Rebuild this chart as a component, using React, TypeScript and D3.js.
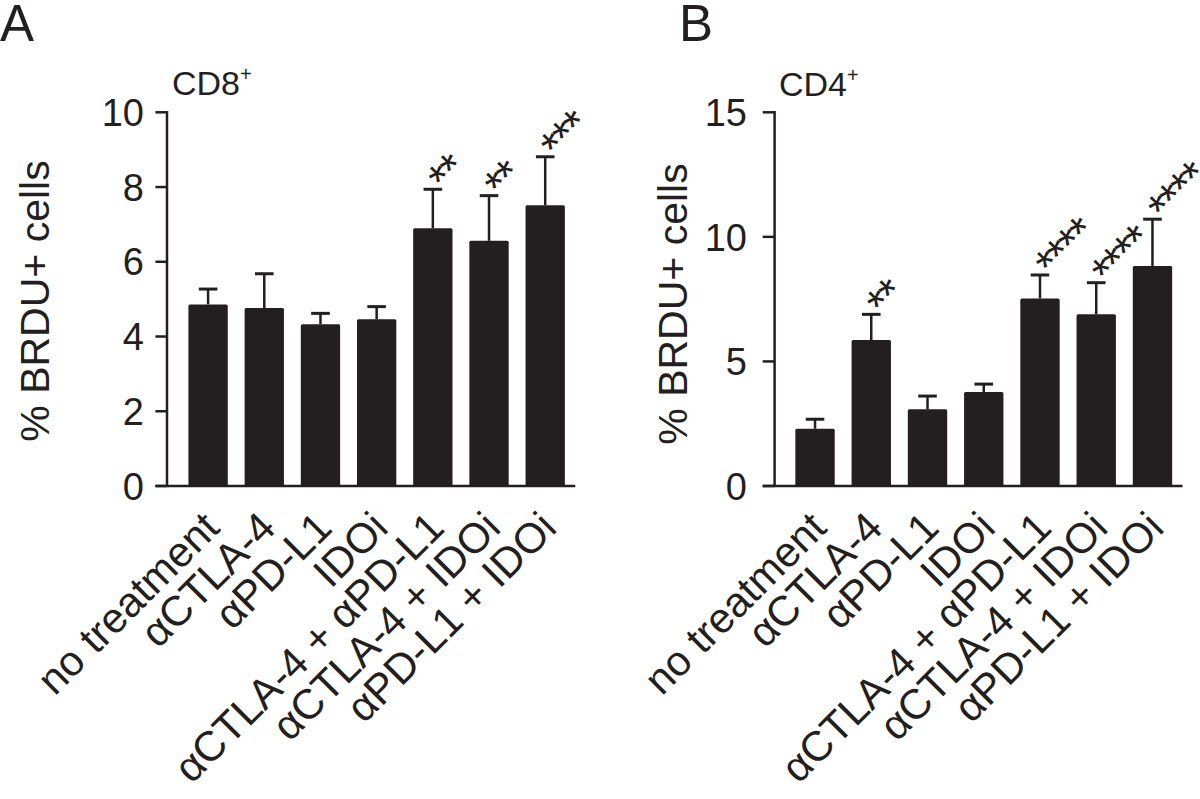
import React from "react";
import * as d3 from "d3";

const categories = [
  "no treatment",
  "αCTLA-4",
  "αPD-L1",
  "IDOi",
  "αCTLA-4 + αPD-L1",
  "αCTLA-4 + IDOi",
  "αPD-L1 + IDOi",
];

const cd8Mean = [4.86, 4.76, 4.33, 4.46, 6.9, 6.56, 7.51];
const cd8Sem = [0.41, 0.92, 0.29, 0.34, 1.04, 1.21, 1.3];
const cd8Sig = ["", "", "", "", "**", "**", "***"];
const cd8Ticks = [0, 2, 4, 6, 8, 10];

const cd4Mean = [2.3, 5.86, 3.08, 3.77, 7.53, 6.89, 8.83];
const cd4Sem = [0.38, 1.03, 0.53, 0.32, 0.94, 1.27, 1.88];
const cd4Sig = ["", "**", "", "", "****", "****", "****"];
const cd4Ticks = [0, 5, 10, 15];

const yTitle = "% BRDU+ cells";

const FONT = '"Liberation Sans", Arial, Helvetica, sans-serif';
const INK = "#231f20";

type PanelProps = {
  letter: string;
  letterX: number;
  cell: string;
  titleX: number;
  titleY: number;
  axisX: number;
  tickLen: number;
  tickLabelX: number;
  xAxisEnd: number;
  band: [number, number];
  yMax: number;
  ticks: number[];
  means: number[];
  sems: number[];
  sig: string[];
  yTitleX: number;
  yTitleY: number;
};

const Y0 = 486;
const Y1 = 112.3;

function Panel(p: PanelProps) {
  const x = d3
    .scaleBand<string>()
    .domain(categories)
    .range(p.band)
    .paddingInner(0.3)
    .paddingOuter(0.15);
  const y = d3.scaleLinear().domain([0, p.yMax]).range([Y0, Y1]);
  const bw = x.bandwidth();
  const capHalf = 9.3;
  const starSize = 46;
  return (
    <g>
      <text x={p.letterX} y={41} fontSize={51} fontFamily={FONT} fill={INK}>
        {p.letter}
      </text>
      <text x={p.titleX} y={p.titleY} fontSize={34} fontFamily={FONT} fill={INK}>
        {p.cell}
        <tspan fontSize={20} dy={-14}>+</tspan>
      </text>
      <text
        transform={`translate(${p.yTitleX},${p.yTitleY}) rotate(-90)`}
        textAnchor="middle"
        fontSize={41}
        fontFamily={FONT}
        fill={INK}
      >
        {yTitle}
      </text>
      {categories.map((c, i) => {
        const x0 = x(c) as number;
        const cx = x0 + bw / 2;
        const top = y(p.means[i]);
        const cap = y(p.means[i] + p.sems[i]);
        return (
          <g key={c}>
            <line x1={cx} x2={cx} y1={top} y2={cap} stroke={INK} strokeWidth={2.5} />
            <line x1={cx - capHalf} x2={cx + capHalf} y1={cap} y2={cap} stroke={INK} strokeWidth={3} />
            <rect x={x0} y={top} width={bw} height={Y0 - top} fill={INK} rx={1.5} />
            {p.sig[i] ? (
              <g transform={`translate(${cx + 1},${cap - 19}) rotate(-45)`}>
                <text
                  x={-0.195 * starSize}
                  y={0.6 * starSize}
                  fontSize={starSize}
                  letterSpacing={-2.2}
                  fontFamily={FONT}
                  fill={INK}
                >
                  {p.sig[i]}
                </text>
              </g>
            ) : null}
            <g transform={`translate(${cx + 13.5},${Y0 + 44}) rotate(-45)`}>
              <text textAnchor="end" fontSize={42} fontFamily={FONT} fill={INK}>
                {c}
              </text>
            </g>
          </g>
        );
      })}
      <line x1={p.axisX} x2={p.axisX} y1={Y1 - 1.2} y2={Y0} stroke={INK} strokeWidth={2.5} />
      {p.ticks.map((t) => (
        <g key={t}>
          <line
            x1={p.axisX - p.tickLen}
            x2={p.axisX}
            y1={y(t)}
            y2={y(t)}
            stroke={INK}
            strokeWidth={2.5}
          />
          <text
            x={p.tickLabelX}
            y={y(t)}
            dy="0.36em"
            textAnchor="end"
            fontSize={38}
            fontFamily={FONT}
            fill={INK}
          >
            {t}
          </text>
        </g>
      ))}
      <line x1={p.axisX - p.tickLen} x2={p.xAxisEnd} y1={Y0} y2={Y0} stroke={INK} strokeWidth={2.5} />
    </g>
  );
}

export default function App() {
  return (
    <svg
      width={1200}
      height={799}
      viewBox="0 0 1200 799"
      style={{ position: "absolute", left: 0, top: 0, background: "#fff" }}
    >
      <rect width={1200} height={799} fill="#fff" />
      <Panel
        letter="A"
        letterX={0}
        cell="CD8"
        titleX={172}
        titleY={95}
        axisX={167}
        tickLen={11.6}
        tickLabelX={144}
        xAxisEnd={575.3}
        band={[180, 573.3]}
        yMax={10}
        ticks={cd8Ticks}
        means={cd8Mean}
        sems={cd8Sem}
        sig={cd8Sig}
        yTitleX={49}
        yTitleY={301}
      />
      <Panel
        letter="B"
        letterX={679}
        cell="CD4"
        titleX={779}
        titleY={96}
        axisX={774.6}
        tickLen={11.9}
        tickLabelX={747}
        xAxisEnd={1182.5}
        band={[786.9, 1180.6]}
        yMax={15}
        ticks={cd4Ticks}
        means={cd4Mean}
        sems={cd4Sem}
        sig={cd4Sig}
        yTitleX={687}
        yTitleY={304}
      />
    </svg>
  );
}
